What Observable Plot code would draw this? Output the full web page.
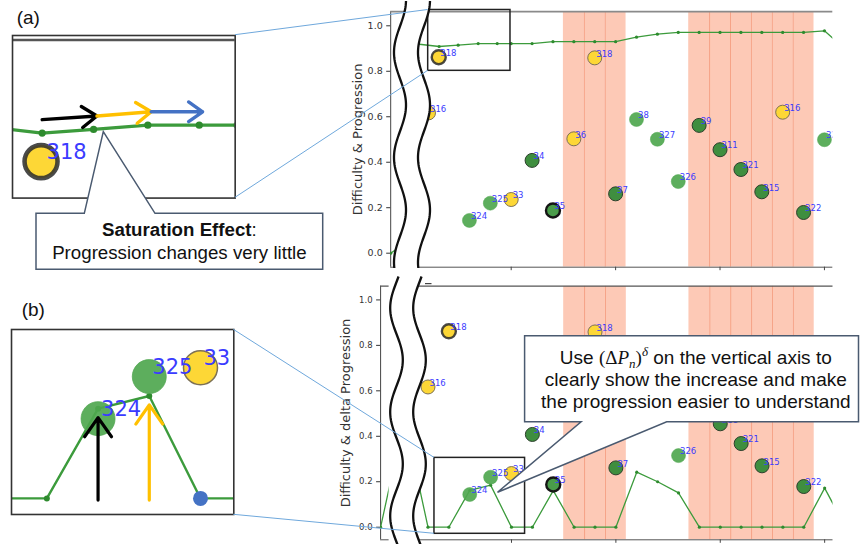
<!DOCTYPE html>
<html><head><meta charset="utf-8">
<script src="https://cdn.jsdelivr.net/npm/d3@7"></script>
<script src="https://cdn.jsdelivr.net/npm/@observablehq/plot@0.6"></script>
<style>
html,body{margin:0;padding:0;background:#fff;}
#root{position:relative;width:861px;height:544px;overflow:hidden;background:#fff;font-family:"DejaVu Sans",sans-serif;}
</style></head><body><div id="root"></div>
<script>
// ---------------- data ----------------
const yTicks = [0, 0.2, 0.4, 0.6, 0.8, 1.0];
const xTicks = [10, 15, 20, 25];
const bandCells = [13, 14, 15, 19, 20, 21, 22, 23, 24];

const circleLabels = ["316","318","324","325","33","34","35","36","318","37","38","327","326","39","311","321","315","316","322","323"];
const circleXTop    = [6.04, 6.53, 8, 9, 10, 11, 12, 13, 14, 15, 16, 17, 18, 19, 20, 21, 22, 23, 24, 25];
const circleXBottom = [6, 7, 8, 9, 10, 11, 12, 13, 14, 15, 16, 17, 18, 19, 20, 21, 22, 23, 24, 25];
const circleY = [0.617, 0.862, 0.144, 0.22, 0.236, 0.408, 0.188, 0.503, 0.859, 0.261, 0.588, 0.501, 0.315, 0.562, 0.455, 0.368, 0.27, 0.62, 0.179, 0.499];
const circleKind = ["y","yk","g","g","y","gd","gk","y","y","gd","g","g","g","gd","gd","gd","gd","y","gd","g"];

const progX = [4.23, 5.0, 5.5, 6.55, 7.46, 8.42, 9.33, 10, 11, 12, 13, 14, 15, 16, 17, 18, 19, 20, 21, 22, 23, 24, 25, 26];
const progY = [0.0, 0.05, 0.92, 0.909, 0.915, 0.922, 0.922, 0.922, 0.922, 0.93, 0.93, 0.93, 0.93, 0.95, 0.963, 0.971, 0.971, 0.971, 0.971, 0.971, 0.971, 0.971, 0.978, 0.896];
const deltaX = [3.73, 4.87, 6, 7, 8, 9, 10, 11, 12, 13, 14, 15, 16, 17, 18, 19, 20, 21, 22, 23, 24, 25, 26];
const deltaY = [0.0, 0.48, 0.0, 0.0, 0.162, 0.185, 0.0, 0.0, 0.161, 0.0, 0.0, 0.0, 0.242, 0.2, 0.151, 0.0, 0.0, 0.0, 0.0, 0.0, 0.0, 0.172, 0.0];

const insetAWindow = {x1: 6.025, x2: 9.966, y1: 0.802, y2: 1.0695};
const insetBWindow = {x1: 6.31, x2: 10.65, y1: -0.029, y2: 0.305};
const arrowColors = ["#000000", "#ffc000", "#4472c4"];

// ---------------- helpers ----------------
const root = document.getElementById("root");
function place(el, left, top) {
  el.style.position = "absolute"; el.style.left = left + "px"; el.style.top = top + "px";
  root.appendChild(el); return el;
}
const bandEdges = bandCells.filter(c => bandCells.includes(c + 1)).map(c => c + 0.5);
const kindStyles = {
  g:  {fill: "#4fa74f", stroke: "#4fa74f", sw: 0.5, op: 0.92},
  gd: {fill: "#3f8e3f", stroke: "#2d402d", sw: 1, op: 1},
  gk: {fill: "#4a9c4a", stroke: "#151515", sw: 2.4, op: 1},
  y:  {fill: "#fdd736", stroke: "#7d7155", sw: 1, op: 1},
  yk: {fill: "#fdd736", stroke: "#2a2a2a", sw: 2.4, op: 1}
};
function circleMarks(xArr, o) {
  let data = circleLabels.map((t, i) => ({x: xArr[i], y: circleY[i], t, k: circleKind[i]}));
  if (o.win) {
    const w = o.win, px = (w.x2 - w.x1) * 0.08, py = (w.y2 - w.y1) * 0.1;
    data = data.filter(d => d.x >= w.x1 - px && d.x <= w.x2 + px && d.y >= w.y1 - py && d.y <= w.y2 + py);
  }
  return [
    ...Object.entries(kindStyles).map(([k, s]) => Plot.dot(data.filter(d => d.k === k), {
      x: "x", y: "y", r: o.r, fill: s.fill, fillOpacity: s.op, stroke: s.stroke,
      strokeWidth: s.sw * o.sw, strokeOpacity: k === "yk" ? 0.85 : 1, clip: true})),
    Plot.text(data, {x: "x", y: "y", text: "t", dx: o.dx, dy: o.dy, textAnchor: "start",
      fill: "#3b3bff", fontSize: o.fontSize, fontFamily: "DejaVu Sans", clip: true})
  ];
}

function mainPanel(cfg) {
  const lineData = cfg.lineX.map((x, i) => ({x, y: cfg.lineY[i]}));
  const [x0] = cfg.xDomain, [y0, y1] = cfg.yDomain;
  return Plot.plot({
    width: 861, height: cfg.height,
    marginLeft: cfg.ml, marginRight: cfg.mr, marginTop: cfg.mt, marginBottom: cfg.mb,
    x: {domain: cfg.xDomain, label: null},
    y: {domain: cfg.yDomain, label: null},
    style: {fontFamily: "DejaVu Sans", background: "transparent", overflow: "visible"},
    marks: [
      Plot.rect(bandCells, {x1: d => d - 0.5, x2: d => d + 0.5, fill: "#fdc9b6", clip: true}),
      Plot.ruleX(bandEdges, {stroke: "#f6a286", strokeWidth: 1, clip: true}),
      Plot.ruleX([x0], {stroke: "#444"}),
      Plot.ruleY([y0], {stroke: "#555"}),
      Plot.ruleY([y1], {stroke: cfg.topSpine, strokeWidth: cfg.topSpineWidth}),
      Plot.axisY({ticks: yTicks, tickFormat: d3.format(".1f"), tickSize: 4, tickPadding: 4,
        fontSize: cfg.tickFont, color: "#333", label: null}),
      Plot.axisX({ticks: xTicks, tickSize: 3.5, tickFormat: () => "", color: "#444", label: null}),
      Plot.text([cfg.axisLabel], {frameAnchor: "left", text: d => d, rotate: -90, dx: cfg.labelDx,
        textAnchor: "middle", lineAnchor: "middle", fontSize: 13, fill: "#333"}),
      Plot.line(lineData, {x: "x", y: "y", stroke: "#3c9b3c", strokeWidth: 1.3, clip: true}),
      Plot.dot(lineData, {x: "x", y: "y", r: 1.6, fill: "#2e8b2e", clip: true}),
      ...circleMarks(cfg.circleX, {r: 7, sw: 1, fontSize: 8.5, dx: 1.5, dy: -4}),
      Plot.rect([cfg.win], {x1: "x1", x2: "x2", y1: "y1", y2: "y2", fill: "none", stroke: "#222", strokeWidth: 1.5})
    ]
  });
}

// ---------------- main panels ----------------
const TOP_Y = 0, BOT_Y = 276;
const topChart = place(mainPanel({
  height: 275, ml: 390.2, mr: 28.7, mt: 11.2, mb: 8.3,
  xDomain: [4.23, 25.4], yDomain: [-0.0616, 1.062],
  lineX: progX, lineY: progY, circleX: circleXTop,
  tickFont: 9.5, axisLabel: "Difficulty & Progression", labelDx: -33.2,
  topSpine: "#8a8a8a", topSpineWidth: 1.8, win: insetAWindow
}), 0, TOP_Y);

const botChart = place(mainPanel({
  height: 268, ml: 380.1, mr: 28.5, mt: 9.7, mb: 4.7,
  xDomain: [3.73, 25.4], yDomain: [-0.0554, 1.0603],
  lineX: deltaX, lineY: deltaY, circleX: circleXBottom,
  tickFont: 8.5, axisLabel: "Difficulty & delta Progression", labelDx: -34.9,
  topSpine: "#555", topSpineWidth: 1.2, win: insetBWindow
}), 0, BOT_Y);

// ---------------- inset (a) ----------------
const A_BOX = {left: 12.3, top: 34.7, w: 222.7, h: 162.6};
const progData = progX.map((x, i) => ({x, y: progY[i]}));
const arrowsA = [0, 1, 2].map(i => ({
  x1: progX[3 + i] + (i ? 0.06 : 0), y1: progY[3 + i] + 0.022,
  x2: progX[4 + i] + 0.06, y2: progY[4 + i] + 0.022, c: arrowColors[i]}));
const insetA = place(Plot.plot({
  width: A_BOX.w, height: A_BOX.h, margin: 0,
  x: {domain: [insetAWindow.x1, insetAWindow.x2], axis: null},
  y: {domain: [insetAWindow.y1, insetAWindow.y2], axis: null},
  style: {fontFamily: "DejaVu Sans", background: "#fff", overflow: "visible"},
  marks: [
    Plot.ruleY([1.062], {stroke: "#555", strokeWidth: 2.6}),
    Plot.line(progData, {x: "x", y: "y", stroke: "#3c9b3c", strokeWidth: 3.2, clip: true}),
    Plot.dot(progData, {x: "x", y: "y", r: 3.6, fill: "#2e8b2e", clip: true}),
    ...circleMarks(circleXTop, {r: 16.5, sw: 1.9, fontSize: 21, dx: 5.5, dy: -9, win: insetAWindow}),
    ...arrowsA.map(a => Plot.arrow([a], {x1: "x1", y1: "y1", x2: "x2", y2: "y2",
      stroke: a.c, strokeWidth: 3.4, headLength: 12, headAngle: 70})),
    Plot.frame({stroke: "#333", strokeWidth: 1.6})
  ]
}), A_BOX.left, A_BOX.top);

// ---------------- inset (b) ----------------
const B_BOX = {left: 11, top: 329.3, w: 222.3, h: 185};
const deltaData = deltaX.map((x, i) => ({x, y: deltaY[i]}));
const arrowsB = [8, 9].map((xv, i) => {
  const j = deltaX.indexOf(xv);
  return {x: xv, y1: -0.003, y2: deltaY[j] - 0.016, c: arrowColors[i]};
});
const nextPoint = deltaData.filter(d => d.x === 10);
const insetB = place(Plot.plot({
  width: B_BOX.w, height: B_BOX.h, margin: 0,
  x: {domain: [insetBWindow.x1, insetBWindow.x2], axis: null},
  y: {domain: [insetBWindow.y1, insetBWindow.y2], axis: null},
  style: {fontFamily: "DejaVu Sans", background: "#fff", overflow: "visible"},
  marks: [
    Plot.line(deltaData, {x: "x", y: "y", stroke: "#3c9b3c", strokeWidth: 2.4, clip: true}),
    Plot.dot(deltaData, {x: "x", y: "y", r: 3, fill: "#2e8b2e", clip: true}),
    ...circleMarks(circleXBottom, {r: 17, sw: 1.5, fontSize: 21, dx: 3, dy: -9, win: insetBWindow}),
    ...arrowsB.map(a => Plot.arrow([a], {x1: "x", y1: "y1", x2: "x", y2: "y2",
      stroke: a.c, strokeWidth: 3.2, headLength: 11, headAngle: 70})),
    Plot.dot(nextPoint, {x: "x", y: "y", r: 7.5, fill: "#4472c4"}),
    Plot.frame({stroke: "#333", strokeWidth: 1.6})
  ]
}), B_BOX.left, B_BOX.top);

// ---------------- overlay: breaks, connectors, callouts ----------------
const ov = d3.create("svg").attr("width", 861).attr("height", 544)
  .style("position", "absolute").style("left", "0px").style("top", "0px");
root.appendChild(ov.node());

function wave(c, A, P, y0, ya, yb) {
  const pts = [];
  for (let y = ya; y <= yb; y += 1) pts.push([c + A * Math.cos(2 * Math.PI * (y - y0) / P), y]);
  return pts;
}
const toD = pts => "M" + pts.map(p => p[0].toFixed(2) + "," + p[1].toFixed(2)).join("L");
// [c1, c2, amplitude, period, phase, yStart, yEnd, straight left edge of the blank (or null)]
[[400, 424, 6, 105, 0, 1, 268.5, null], [396.5, 419.5, 6.3, 104, 360, 276.5, 546, 388.6]].forEach(([c1, c2, A, P, y0, ya, yb, edge]) => {
  const w1 = wave(c1, A, P, y0, ya, yb), w2 = wave(c2, A, P, y0, ya, yb);
  const leftSide = edge == null ? w1 : [[edge, ya], [edge, yb]];
  ov.append("path").attr("d", toD(leftSide.concat(w2.slice().reverse())) + "Z").attr("fill", "#fff");
  [w1, w2].forEach(w => ov.append("path").attr("d", toD(w)).attr("fill", "none")
    .attr("stroke", "#111").attr("stroke-width", 2.3));
});
ov.append("line").attr("x1", 425).attr("x2", 431.5).attr("y1", 283.6).attr("y2", 283.6)
  .attr("stroke", "#444").attr("stroke-width", 1.2);

// connectors (computed through the panels' scales)
function corner(chart, offY, xv, yv) {
  return [chart.scale("x").apply(xv), chart.scale("y").apply(yv) + offY];
}
const conn = [
  [[A_BOX.left + A_BOX.w, A_BOX.top], corner(topChart, TOP_Y, insetAWindow.x1, insetAWindow.y2)],
  [[A_BOX.left + A_BOX.w, A_BOX.top + A_BOX.h], corner(topChart, TOP_Y, insetAWindow.x1, insetAWindow.y1)],
  [[B_BOX.left + B_BOX.w, B_BOX.top], corner(botChart, BOT_Y, insetBWindow.x1, insetBWindow.y2)],
  [[B_BOX.left + B_BOX.w, B_BOX.top + B_BOX.h], corner(botChart, BOT_Y, insetBWindow.x1, insetBWindow.y1)]
];
conn.forEach(([a, b]) => ov.append("line").attr("x1", a[0]).attr("y1", a[1]).attr("x2", b[0]).attr("y2", b[1])
  .attr("stroke", "#6fa8dc").attr("stroke-width", 1));

// callout (a)
ov.append("path").attr("d", "M36,213.3H84.3L103.3,131.7L155,213.3H322.7V269.3H36Z")
  .attr("fill", "#fff").attr("stroke", "#4a5a70").attr("stroke-width", 1.5);
const ta1 = ov.append("text").attr("x", 179.4).attr("y", 236).attr("text-anchor", "middle")
  .attr("font-family", "Liberation Sans, Arial, sans-serif").attr("font-size", 18.7).attr("fill", "#111");
ta1.append("tspan").attr("font-weight", "bold").text("Saturation Effect");
ta1.append("tspan").text(":");
ov.append("text").attr("x", 179.4).attr("y", 259.3).attr("text-anchor", "middle")
  .attr("font-family", "Liberation Sans, Arial, sans-serif").attr("font-size", 18.7).attr("fill", "#111")
  .text("Progression changes very little");

// callout (b)
const CB = {x1: 524.6, x2: 858.5, y1: 335.7, y2: 421.7};
ov.append("path").attr("d", `M${CB.x1},${CB.y1}H${CB.x2}V${CB.y2}H666.7L497.5,492.3L581.1,${CB.y2}H${CB.x1}Z`)
  .attr("fill", "#fff").attr("stroke", "#4a5a70").attr("stroke-width", 1.5);
const tb1 = ov.append("text").attr("x", 695.8).attr("y", 364).attr("text-anchor", "middle")
  .attr("font-family", "Liberation Sans, Arial, sans-serif").attr("font-size", 19).attr("fill", "#111");
tb1.append("tspan").text("Use ");
tb1.append("tspan").attr("font-family", "Liberation Serif, serif").text("(Δ");
tb1.append("tspan").attr("font-family", "Liberation Serif, serif").attr("font-style", "italic").text("P");
tb1.append("tspan").attr("font-family", "Liberation Serif, serif").attr("font-style", "italic")
  .attr("font-size", 13).attr("dy", 4).text("n");
tb1.append("tspan").attr("font-family", "Liberation Serif, serif").attr("dy", -4).text(")");
tb1.append("tspan").attr("font-family", "Liberation Serif, serif").attr("font-style", "italic")
  .attr("font-size", 13).attr("dy", -8).text("δ");
tb1.append("tspan").attr("dy", 8).text(" on the vertical axis to");
[["clearly show the increase and make", 386.3], ["the progression easier to understand", 408]].forEach(([t, y]) =>
  ov.append("text").attr("x", 695.8).attr("y", y).attr("text-anchor", "middle")
    .attr("font-family", "Liberation Sans, Arial, sans-serif").attr("font-size", 19).attr("fill", "#111").text(t));

// point labels lying entirely under the opaque callout (b) box are invisible: drop them
botChart.querySelectorAll("text").forEach(t => {
  const b = t.getBBox ? t.getBBox() : null;
  if (!b || !b.width) return;
  const r = t.getBoundingClientRect(), rr = root.getBoundingClientRect();
  const L = r.left - rr.left, T = r.top - rr.top, R = L + r.width, B = T + r.height;
  if (L >= CB.x1 && R <= CB.x2 && T >= CB.y1 && B <= CB.y2) t.remove();
});

// panel letters
[["(a)", 16.7, 24], ["(b)", 21.7, 316]].forEach(([t, x, y]) =>
  ov.append("text").attr("x", x).attr("y", y).attr("font-family", "Liberation Sans, Arial, sans-serif")
    .attr("font-size", 19).attr("fill", "#111").text(t));
</script></body></html>
